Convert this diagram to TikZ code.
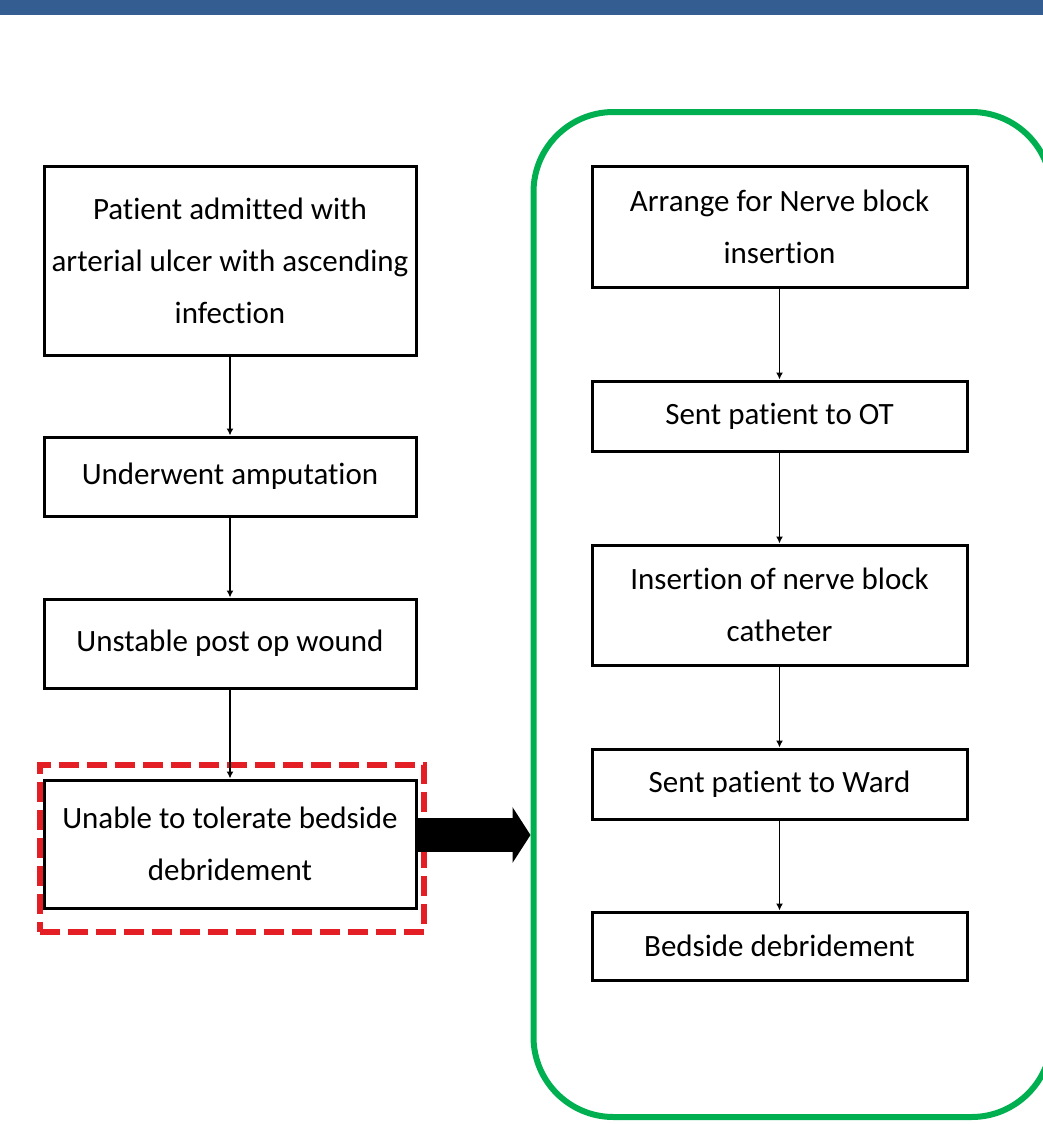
\documentclass[tikz,border=0pt]{standalone}
\usepackage{fontspec}
\setmainfont[Ligatures=NoCommon]{Carlito}
\usetikzlibrary{arrows.meta}
\definecolor{barblue}{RGB}{52,94,145}
\definecolor{phasegreen}{RGB}{0,176,80}
\definecolor{framered}{RGB}{227,30,36}

\begin{document}
\begin{tikzpicture}[x=0.5pt, y=-0.5pt, font=\fontsize{15.5}{26}\selectfont,
    stepbox/.style={draw, line width=1.5pt, align=center, inner sep=0pt},
    leftbox/.style={stepbox, minimum width=186pt},
    rightbox/.style={stepbox, minimum width=187.5pt},
    flow/.style={-{Latex[length=3.5pt,width=3.5pt]}, line width=0.8pt}]
    \useasboundingbox (0, 0) rectangle (1043, 1124);
    \fill[barblue] (0, 0) rectangle (1043, 15);

    \node (phase) [draw=phasegreen, line width=3pt, rounded corners=40pt, minimum width=259pt, minimum height=502.5pt] at (792.5, 614.5) {};
    \node (frame) [draw=framered, line width=3pt, dash pattern=on 10pt off 4pt, minimum width=192pt, minimum height=83.5pt] at (232, 848) {};

    \node (admit) [leftbox, minimum height=94.5pt] at (230, 260.5) {Patient admitted with\\arterial ulcer with ascending\\infection};
    \node (amput) [leftbox, minimum height=39.5pt] at (230, 476.5) {Underwent amputation};
    \node (wound) [leftbox, minimum height=44.5pt] at (230, 643.5) {Unstable post op wound};
    \node (unable) [leftbox, minimum height=64pt] at (230, 844) {Unable to tolerate bedside\\debridement};

    \node (block) [rightbox, minimum height=60.5pt] at (779.5, 226.5) {Arrange for Nerve block\\insertion};
    \node (ot) [rightbox, minimum height=35pt] at (779.5, 416) {Sent patient to OT};
    \node (insert) [rightbox, minimum height=60pt] at (779.5, 605) {Insertion of nerve block\\catheter};
    \node (ward) [rightbox, minimum height=35pt] at (779.5, 784) {Sent patient to Ward};
    \node (debride) [rightbox, minimum height=34pt] at (779.5, 946) {Bedside debridement};

    \draw[flow] (admit) -- (amput);
    \draw[flow] (amput) -- (wound);
    \draw[flow] (wound) -- (unable);
    \draw[flow] (block) -- (ot);
    \draw[flow] (ot) -- (insert);
    \draw[flow] (insert) -- (ward);
    \draw[flow] (ward) -- (debride);

    \draw[line width=17pt, -{Triangle[length=9pt, width=27.5pt]}] ([yshift=4.5pt]unable.east) -- ([yshift=4.5pt]unable.east -| phase.west);
\end{tikzpicture}
\end{document}
